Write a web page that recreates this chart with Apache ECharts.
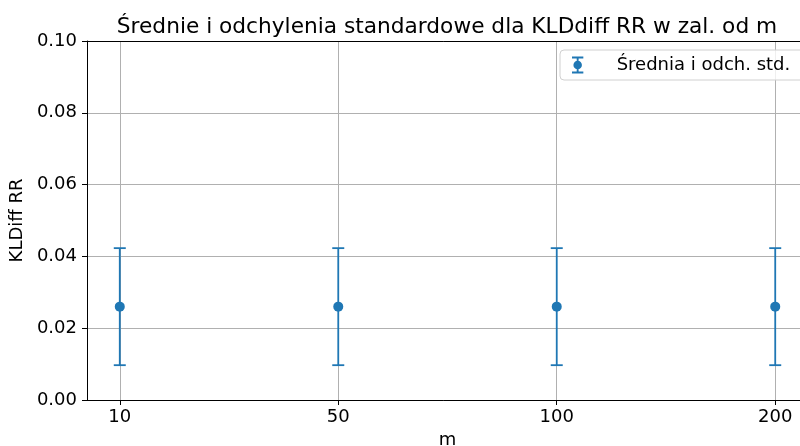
<!DOCTYPE html>
<html>
<head>
<meta charset="utf-8">
<script src="https://cdn.jsdelivr.net/npm/echarts@6/dist/echarts.min.js"></script>
<style>html,body{margin:0;padding:0;background:#fff;}#c{width:800px;height:446px;}</style>
</head>
<body>
<div id="c"></div>
<script>
const categories = ['10', '50', '100', '200'];
const means = [0.026, 0.026, 0.026, 0.026];
const stds = [0.0163, 0.0163, 0.0163, 0.0163];
const yTicks = [0, 0.02, 0.04, 0.06, 0.08, 0.10];

const FONT = 'DejaVu Sans';
const BLUE = '#1f77b4';
const idx = categories.map((c, i) => i);
const errData = idx.map(i => [i, means[i], stds[i]]);
const ptData = idx.map(i => [i, means[i]]);

const iconPath = 'path://M0,0h12v2h-12z M0,16h12v2h-12z M5,0h2v4.5h-2z M5,13.5h2v4.5h-2z M1.5,9a4.5,4.5 0 1,1 9,0a4.5,4.5 0 1,1 -9,0z';

const chart = echarts.init(document.getElementById('c'), null, {renderer: 'canvas'});
chart.setOption({
  animation: false,
  backgroundColor: '#fff',
  title: {
    text: 'Średnie i odchylenia standardowe dla KLDdiff RR w zal. od m',
    left: 442, top: 11, textAlign: 'center',
    textStyle: {fontFamily: FONT, fontSize: 21.7, fontWeight: 'normal', color: '#000'}
  },
  grid: {left: 87, right: -8, top: 41, bottom: 46, outerBoundsMode: 'none', containLabel: false},
  legend: {
    left: 560, top: 50,
    padding: [6, 20, 6, 12],
    itemWidth: 22, itemHeight: 17,
    backgroundColor: 'rgba(255,255,255,0.8)',
    borderColor: '#d0d0d0', borderWidth: 1, borderRadius: 4,
    textStyle: {fontFamily: FONT, fontSize: 18, color: '#000', padding: [0, 0, 0, 23]},
    data: [{name: 'Średnia i odch. std.', icon: iconPath}]
  },
  xAxis: [{
    type: 'value', min: -0.15, max: 3.15,
    name: 'm', nameLocation: 'middle', nameGap: 30,
    nameTextStyle: {fontFamily: FONT, fontSize: 18, color: '#000'},
    axisLine: {show: true, onZero: false, lineStyle: {color: '#000', width: 1}},
    axisTick: {show: true, length: 5, customValues: idx, lineStyle: {color: '#000'}},
    axisLabel: {customValues: idx, fontFamily: FONT, fontSize: 18, color: '#000', margin: 8,
      formatter: v => categories[Math.round(v)]},
    splitLine: {show: true, lineStyle: {color: '#b0b0b0', width: 1}}
  }, {
    type: 'value', min: -0.15, max: 3.15, position: 'top',
    axisLine: {show: true, onZero: false, lineStyle: {color: '#000', width: 1}},
    axisTick: {show: false}, axisLabel: {show: false}, splitLine: {show: false}
  }],
  yAxis: {
    type: 'value', min: 0, max: 0.1, interval: 0.02,
    name: 'KLDiff RR', nameLocation: 'middle', nameGap: 54,
    nameTextStyle: {fontFamily: FONT, fontSize: 18, color: '#000'},
    axisLine: {show: true, onZero: false, lineStyle: {color: '#000', width: 1}},
    axisTick: {show: true, length: 5, lineStyle: {color: '#000'}},
    axisLabel: {fontFamily: FONT, fontSize: 18, color: '#000', margin: 10,
      formatter: v => v.toFixed(2)},
    splitLine: {show: true, lineStyle: {color: '#b0b0b0', width: 1}}
  },
  series: [{
    type: 'custom', name: 'err',
    data: errData,
    encode: {x: 0, y: 1},
    z: 3,
    renderItem: function (params, api) {
      const x = api.value(0), m = api.value(1), s = api.value(2);
      const top = api.coord([x, m + s]);
      const bot = api.coord([x, m - s]);
      const st = {stroke: BLUE, lineWidth: 1.8, fill: null};
      const hw = 6;
      return {type: 'group', children: [
        {type: 'line', shape: {x1: top[0], y1: top[1], x2: bot[0], y2: bot[1]}, style: st},
        {type: 'line', shape: {x1: top[0] - hw, y1: top[1], x2: top[0] + hw, y2: top[1]}, style: st},
        {type: 'line', shape: {x1: bot[0] - hw, y1: bot[1], x2: bot[0] + hw, y2: bot[1]}, style: st}
      ]};
    }
  }, {
    type: 'scatter', name: 'Średnia i odch. std.',
    data: ptData, symbol: 'circle', symbolSize: 10, z: 4,
    itemStyle: {color: BLUE, opacity: 1}
  }]
});
</script>
</body>
</html>
